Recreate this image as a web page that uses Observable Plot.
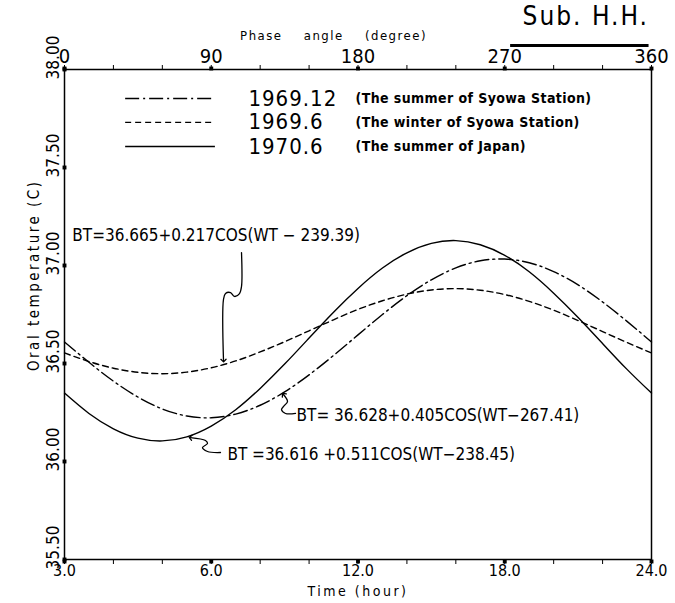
<!DOCTYPE html>
<html>
<head>
<meta charset="utf-8">
<script src="https://cdn.jsdelivr.net/npm/d3@7"></script>
<script src="https://cdn.jsdelivr.net/npm/@observablehq/plot@0.6"></script>
<style>
  body { margin: 0; background: #fff; }
  #chart svg { display: block; }
</style>
</head>
<body>
<div id="chart"></div>
<script>
// ---- data (hour of day, oral temperature °C) ----
const hours = [0,1,2,3,4,5,6,7,8,9,10,11,12,13,14,15,16,17,18,19,20,21,22,23,24];
// 1969.12 (summer of Syowa Station), dash-dot curve
const summerSyowa = [36.610,36.506,36.410,36.329,36.268,36.232,36.223,36.242,36.287,36.355,36.442,36.541,36.646,36.750,36.846,36.927,36.988,37.024,37.033,37.014,36.969,36.901,36.814,36.715,36.610];
// 1969.6 (winter of Syowa Station), dashed curve
const winterSyowa = [36.554,36.510,36.476,36.455,36.448,36.456,36.478,36.513,36.559,36.611,36.667,36.723,36.776,36.820,36.854,36.875,36.882,36.874,36.852,36.817,36.772,36.719,36.663,36.607,36.554];
// 1970.6 (summer of Japan), solid curve
const summerJapan = [36.349,36.245,36.167,36.119,36.105,36.126,36.181,36.264,36.373,36.497,36.630,36.762,36.883,36.987,37.065,37.113,37.127,37.106,37.052,36.968,36.859,36.735,36.602,36.470,36.349];

const seriesKeys = ["1969.12", "1969.6", "1970.6"];
const seriesNotes = ["(The summer of Syowa Station)", "(The winter of Syowa Station)", "(The summer of Japan)"];
const seriesValues = [summerSyowa, winterSyowa, summerJapan];

// tick labels
const timeTicks = [0, 6, 12, 18, 24];
const timeLabels = ["3.0", "6.0", "12.0", "18.0", "24.0"];
const minorTimeTicks = [0,2,4,6,8,10,12,14,16,18,20,22,24];
const phaseTicks = [0, 90, 180, 270, 360];
const phaseLabels = ["0", "90", "180", "270", "360"];
const tempTicks = [35.5, 36.0, 36.5, 37.0, 37.5, 38.0];
const tempLabels = ["35.50", "36.00", "36.50", "37.00", "37.50", "38.00"];

// annotation anchors (data units: hour, °C)
const legendY = [37.852, 37.730, 37.607];
const legendX = [2.5, 6.17, 7.52, 11.9];
const formulaText = ["BT=36.665+0.217COS(WT − 239.39)", "BT= 36.628+0.405COS(WT−267.41)", "BT =36.616 +0.511COS(WT−238.45)"];
const formulaX = [0.32, 9.49, 6.66];
const formulaY = [37.153, 36.235, 36.035];
const pointer1 = [[7.237,37.066],[7.237,36.893],[7.155,36.857],[6.951,36.842],[6.787,36.862],[6.583,36.857],[6.501,36.827],[6.501,36.515]];
const pointer2 = [[9.445,36.245],[9.036,36.245],[8.872,36.265],[8.995,36.286],[9.118,36.306],[8.954,36.342]];
const pointer3 = [[6.378,36.046],[5.847,36.051],[5.642,36.071],[5.847,36.092],[5.765,36.107],[5.152,36.122]];

// ---- styles ----
const dashes = ["14,4,2,4", "6,4", null];
const FONT = "'DejaVu Sans Condensed','DejaVu Sans',sans-serif";

const rows = seriesKeys.flatMap((k, s) => hours.map((h, i) => ({series: k, h, v: seriesValues[s][i]})));
const phaseMap = new Map(phaseTicks.map((p, i) => [p / 15, phaseLabels[i]]));
const timeMap = new Map(timeTicks.map((t, i) => [t, timeLabels[i]]));
const pts = a => a.map(([h, v]) => ({h, v}));

const marks = [
  Plot.frame({stroke: "black", strokeWidth: 1.5}),
  Plot.axisX({anchor: "bottom", ticks: minorTimeTicks, tickSize: 5, tickFormat: () => "", label: null}),
  Plot.axisX({anchor: "top", ticks: minorTimeTicks, tickSize: 5, tickFormat: () => "", label: null}),
  Plot.axisX({anchor: "bottom", ticks: timeTicks, tickSize: 0, tickPadding: 5, tickFormat: d => timeMap.get(d), fontSize: 16, label: null}),
  Plot.axisX({anchor: "top", ticks: phaseTicks.map(p => p / 15), tickSize: 0, tickPadding: 7, tickFormat: d => phaseMap.get(d), fontSize: 20, label: null}),
  Plot.axisY({ticks: [], label: null}),
  Plot.text(tempTicks, {x: 0, y: d => d, text: (d, i) => tempLabels[i], rotate: -90, dx: -6, dy: -12, textAnchor: "middle", lineAnchor: "bottom", fontSize: 17}),
  Plot.dot(tempTicks, {x: 0, y: d => d, symbol: "square", r: 2.2, fill: "black"}),
  Plot.dot(timeTicks, {x: d => d, y: 35.5, symbol: "square", r: 2.2, fill: "black", dy: 2}),
  Plot.dot(timeTicks, {x: d => d, y: 38, symbol: "square", r: 2.2, fill: "black", dy: -1}),
  // axis titles
  Plot.text(["Oral temperature (C)"], {frameAnchor: "left", y: 36.95, text: d => d, rotate: -90, dx: -26, fontSize: 15, textAnchor: "middle", lineAnchor: "bottom"}),
  Plot.text(["Time (hour)"], {frameAnchor: "bottom", x: 12, text: d => d, dy: 36, fontSize: 14}),
  Plot.text(["Phase angle (degree)"], {frameAnchor: "top", x: 11.0, text: d => d, dy: -39, fontSize: 13}),
  Plot.text(["Sub. H.H."], {frameAnchor: "top", x: 23.9, text: d => d, textAnchor: "end", dy: -45, fontSize: 26, lineAnchor: "bottom"}),
  Plot.ruleY([38], {x1: 18.24, x2: 23.9, dy: -24, strokeWidth: 3, stroke: "black"}),
  // curves
  ...seriesKeys.map((k, s) => Plot.line(rows.filter(r => r.series === k), {x: "h", y: "v", curve: "natural", stroke: "black", strokeWidth: 1.4, strokeDasharray: dashes[s]})),
  // legend
  ...seriesKeys.map((k, s) => Plot.ruleY([legendY[s]], {x1: legendX[0], x2: legendX[1], stroke: "black", strokeWidth: 1.4, strokeDasharray: dashes[s]})),
  Plot.text(seriesKeys, {x: legendX[2], y: (d, i) => legendY[i], text: d => d, textAnchor: "start", fontSize: 22, fontWeight: 300}),
  Plot.text(seriesNotes, {x: legendX[3], y: (d, i) => legendY[i], text: d => d, textAnchor: "start", fontSize: 14, fontWeight: "bold"}),
  // formulas and pointers
  Plot.text(formulaText, {x: (d, i) => formulaX[i], y: (d, i) => formulaY[i], text: d => d, textAnchor: "start", fontSize: 17}),
  ...[pointer1, pointer2, pointer3].map(p => Plot.line(pts(p), {x: "h", y: "v", curve: "catmull-rom", stroke: "black", strokeWidth: 1.3, markerEnd: "arrow"}))
];

const chart = Plot.plot({
  width: 675,
  height: 603,
  marginLeft: 64,
  marginRight: 24,
  marginTop: 69,
  marginBottom: 44,
  x: {domain: [0, 24]},
  y: {domain: [35.5, 38]},
  style: {fontFamily: FONT, color: "black", background: "white", overflow: "visible"},
  marks
});

d3.select(chart).selectAll("text").each(function() {
  const t = this.textContent;
  const s = d3.select(this);
  if (t === "Oral temperature (C)") s.style("letter-spacing", "2.5px");
  if (t === "Time (hour)") s.style("letter-spacing", "2.5px");
  if (t === "Phase angle (degree)") s.style("letter-spacing", "1.5px").style("word-spacing", "16px");
  if (t === "Sub. H.H.") s.style("letter-spacing", "2px");
  if (seriesKeys.includes(t)) s.style("letter-spacing", "1px");
  if (seriesNotes.includes(t)) s.style("letter-spacing", "0.4px");
});
document.getElementById("chart").appendChild(chart);
</script>
</body>
</html>
